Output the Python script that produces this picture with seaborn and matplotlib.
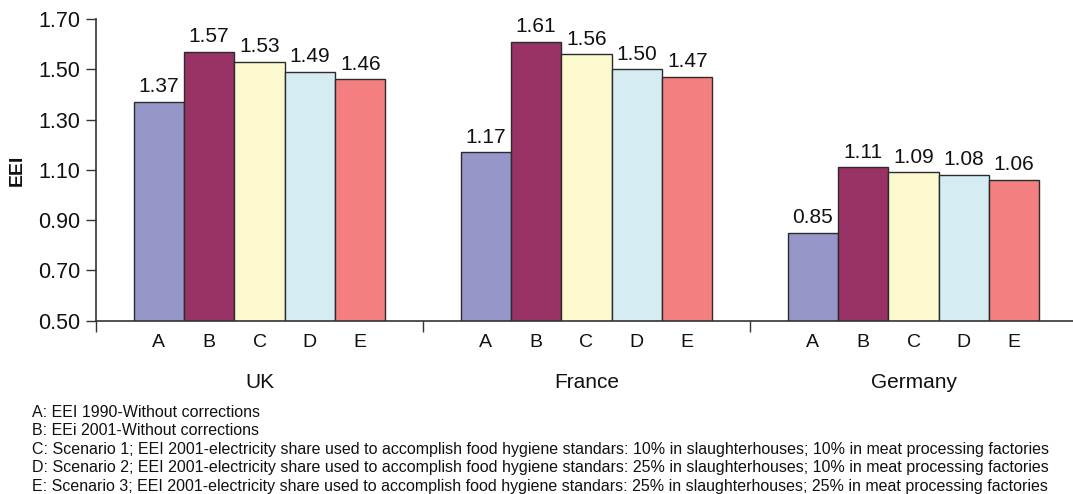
import matplotlib
matplotlib.use("Agg")
import matplotlib.pyplot as plt
import seaborn as sns
import pandas as pd

# Energy efficiency index per country and scenario
countries = ["UK", "France", "Germany"]
scenarios = ["A", "B", "C", "D", "E"]
uk_values = [1.37, 1.57, 1.53, 1.49, 1.46]
france_values = [1.17, 1.61, 1.56, 1.50, 1.47]
germany_values = [0.85, 1.11, 1.09, 1.08, 1.06]
y_ticks = [0.50, 0.70, 0.90, 1.10, 1.30, 1.50, 1.70]

scenario_notes = [
    "A: EEI 1990-Without corrections",
    "B: EEi 2001-Without corrections",
    "C: Scenario 1; EEI 2001-electricity share used to accomplish food hygiene standars: 10% in slaughterhouses; 10% in meat processing factories",
    "D: Scenario 2; EEI 2001-electricity share used to accomplish food hygiene standars: 25% in slaughterhouses; 10% in meat processing factories",
    "E: Scenario 3; EEI 2001-electricity share used to accomplish food hygiene standars: 25% in slaughterhouses; 25% in meat processing factories",
]

colors = ["#9696c8", "#993366", "#fcf9ce", "#d5ecf3", "#f47f80"]

rows = []
for country, vals in zip(countries, [uk_values, france_values, germany_values]):
    for sc, v in zip(scenarios, vals):
        rows.append({"country": country, "scenario": sc, "eei": v})
df = pd.DataFrame(rows)

sns.set_theme(style="white")
plt.rcParams["font.family"] = ["Liberation Sans", "DejaVu Sans"]

W, H = 1073, 494
fig = plt.figure(figsize=(W / 100, H / 100), dpi=100)
ax = fig.add_axes([96 / W, (H - 320.7) / H, 981 / W, 301.7 / H])

sns.barplot(data=df, x="country", y="eei", hue="scenario", order=countries,
            hue_order=scenarios, palette=colors, width=0.77,
            edgecolor="#2b2b2b", linewidth=1.0, saturation=1, ax=ax, legend=False)

for cont in ax.containers:
    ax.bar_label(cont, fmt="%.2f", padding=4, fontsize=15, color="#111111")

ax.set_ylim(0.5, 1.70)
ax.set_xlim(-0.5, 2.5)
ax.set_yticks(y_ticks)
ax.set_yticklabels([f"{t:.2f}" for t in y_ticks], fontsize=15.5, color="#111111")
ax.tick_params(axis="y", direction="out", length=7, width=1, color="#333333",
               left=True, pad=4)

# scenario letters under each bar
centers, letters = [], []
for sc, cont in zip(scenarios, ax.containers):
    for bar in cont:
        centers.append(bar.get_x() + bar.get_width() / 2)
        letters.append(sc)
ax.set_xticks(centers)
ax.set_xticklabels(letters, fontsize=14, color="#111111")
ax.tick_params(axis="x", which="major", length=0, pad=9.5)

# group separators
ax.set_xticks([-0.5, 0.5, 1.5], minor=True)
ax.tick_params(axis="x", which="minor", direction="out", length=8, width=1,
               color="#333333", bottom=True)

for i, c in enumerate(countries):
    ax.annotate(c, xy=(i, 0), xycoords=("data", "axes fraction"),
                xytext=(0, -44.5), textcoords="offset points",
                ha="center", va="center", fontsize=15, color="#111111")

ax.set_xlabel("")
ax.set_ylabel("EEI", fontsize=14, fontweight="bold", color="#111111", labelpad=9)

for side in ["top", "right"]:
    ax.spines[side].set_visible(False)
for side in ["left", "bottom"]:
    ax.spines[side].set_color("#333333")
    ax.spines[side].set_linewidth(1.2)
ax.grid(False)

y0 = 412
for k, note in enumerate(scenario_notes):
    fig.text(32 / W, 1 - (y0 + k * 18.5) / H, note, fontsize=11.5,
             color="#111111", ha="left", va="center")

fig.savefig("out.png", dpi=100)
